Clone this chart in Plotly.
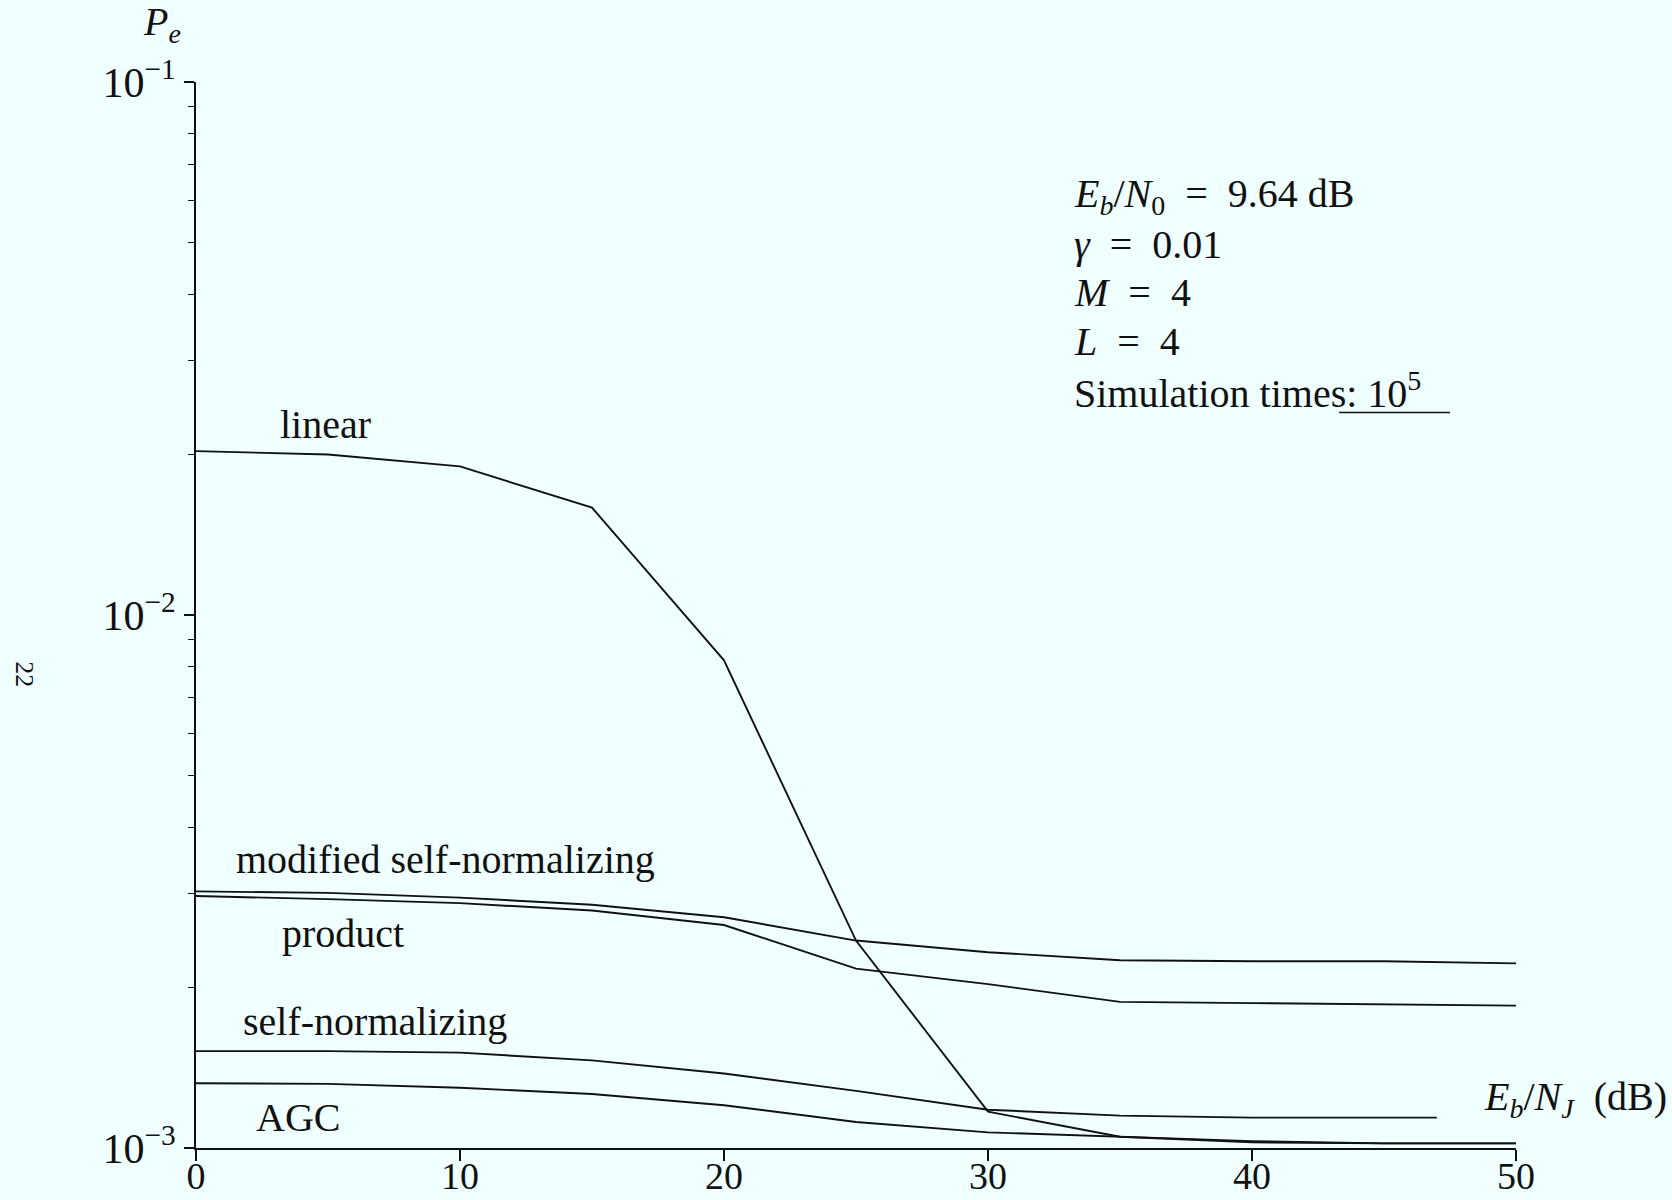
import plotly.graph_objects as go

# ---- data ----
eb_nj = [0, 5, 10, 15, 20, 25, 30, 35, 40, 45, 50]
eb_nj_selfnorm = [0, 5, 10, 15, 20, 25, 30, 35, 40, 45, 47]

pe_linear = [0.0203, 0.0200, 0.0190, 0.0159, 0.00822, 0.00245, 0.00117, 0.00105, 0.001025, 0.00102, 0.00102]
pe_modified = [0.00303, 0.00301, 0.00295, 0.00286, 0.00271, 0.00245, 0.00233, 0.00225, 0.00224, 0.00224, 0.00222]
pe_product = [0.00297, 0.00293, 0.00288, 0.00279, 0.00262, 0.00217, 0.00203, 0.00188, 0.00187, 0.00186, 0.00185]
pe_selfnorm = [0.00152, 0.00152, 0.00151, 0.00146, 0.00138, 0.00128, 0.00118, 0.00115, 0.00114, 0.00114, 0.00114]
pe_agc = [0.001323, 0.001319, 0.001297, 0.001263, 0.001203, 0.001119, 0.00107, 0.00105, 0.00103, 0.00102, 0.00102]

x_ticks = [0, 10, 20, 30, 40, 50]
y_ticks = [0.001, 0.01, 0.1]
y_ticktext = ["10<sup>\u22123</sup>", "10<sup>\u22122</sup>", "10<sup>\u22121</sup>"]
y_minor = [m * 10 ** e for e in (-3, -2) for m in range(2, 10)]

series = [
    ("linear", eb_nj, pe_linear),
    ("modified self-normalizing", eb_nj, pe_modified),
    ("product", eb_nj, pe_product),
    ("self-normalizing", eb_nj_selfnorm, pe_selfnorm),
    ("AGC", eb_nj, pe_agc),
]

BG = "#F0FFFF"
FONT = "Liberation Serif"
INK = "#111111"
TS = 40

fig = go.Figure()
for name, xs, ys in series:
    fig.add_trace(go.Scatter(x=xs, y=ys, mode="lines", name=name,
                             line=dict(color=INK, width=1.9), showlegend=False))

# curve labels (x in data units, y in log10 units)
labels = [
    ("linear", 4.9, -1.642, "center"),
    ("modified self-normalizing", 1.45, -2.458, "left"),
    ("product", 3.2, -2.598, "left"),
    ("self-normalizing", 1.7, -2.762, "left"),
    ("AGC", 2.2, -2.942, "left"),
]
for txt, lx, ly, al in labels:
    fig.add_annotation(x=lx, y=ly, text=txt, showarrow=False, xanchor=al,
                       yanchor="middle", font=dict(family=FONT, size=TS, color=INK))

info = [
    "<i>E</i><sub><i>b</i></sub>/<i>N</i><sub>0</sub>\u2002=\u20029.64 dB",
    "<i>\u03b3</i>\u2002=\u20020.01",
    "<i>M</i>\u2002=\u20024",
    "<i>L</i>\u2002=\u20024",
    "Simulation times: 10<sup>5</sup>",
]
info_y = [-1.214, -1.304, -1.394, -1.486, -1.578]
for t, iy in zip(info, info_y):
    fig.add_annotation(x=33.2, y=iy, text=t, showarrow=False, xanchor="left",
                       yanchor="middle", font=dict(family=FONT, size=TS, color=INK))

# underline under "10^5"
fig.add_shape(type="line", x0=43.3, x1=47.5, y0=0.690, y1=0.690, xref="x", yref="paper",
              line=dict(color=INK, width=1.5))

# axis titles
fig.add_annotation(x=0, y=1.0, xref="paper", yref="paper", xshift=-55, yshift=58,
                   yanchor="middle", text="<i>P</i><sub><i>e</i></sub>", showarrow=False,
                   font=dict(family=FONT, size=TS, color=INK))
fig.add_annotation(x=1.0, y=-2.908, xref="paper", yref="y", xshift=153, xanchor="right",
                   text="<i>E</i><sub><i>b</i></sub>/<i>N</i><sub><i>J</i></sub>\u2002(dB)",
                   showarrow=False, font=dict(family=FONT, size=TS, color=INK))
# page number
fig.add_annotation(x=0, y=0.445, xref="paper", yref="paper", xshift=-188,
                   text="22", textangle=90, showarrow=False,
                   font=dict(family=FONT, size=26, color=INK))

fig.update_xaxes(range=[0, 50], tickvals=x_ticks, ticks="outside", ticklen=11,
                 tickwidth=1.5, tickcolor=INK, showline=True, linecolor=INK, linewidth=1.8,
                 showgrid=False, zeroline=False, automargin=False, ticklabelstandoff=-18,
                 tickfont=dict(family=FONT, size=38, color=INK))
fig.update_yaxes(type="log", range=[-3, -1], tickvals=y_ticks, ticktext=y_ticktext,
                 ticks="outside", ticklen=10, tickwidth=1.5, tickcolor=INK,
                 showline=True, linecolor=INK, linewidth=1.8, showgrid=False, zeroline=False,
                 automargin=False,
                 minor=dict(tickvals=y_minor, ticks="outside", ticklen=6, tickcolor=INK,
                            tickwidth=1.2, showgrid=False),
                 tickfont=dict(family=FONT, size=42, color=INK))

fig.update_layout(width=1672, height=1200, margin=dict(l=196, r=156, t=82, b=52),
                  paper_bgcolor=BG, plot_bgcolor=BG, showlegend=False)

fig.write_html("out.html")
